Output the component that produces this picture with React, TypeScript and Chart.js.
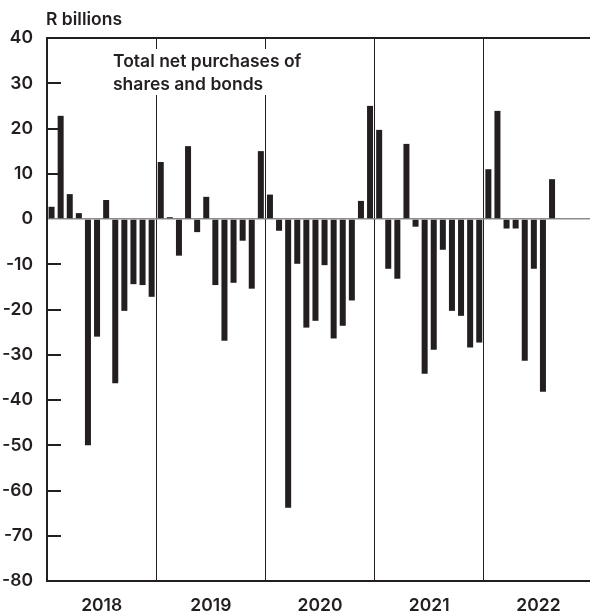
import { useEffect, useRef } from 'react';
import { Chart, registerables } from 'chart.js';

Chart.register(...registerables);

const years = ['2018', '2019', '2020', '2021', '2022'];
const monthNames = ['Jan', 'Feb', 'Mar', 'Apr', 'May', 'Jun', 'Jul', 'Aug', 'Sep', 'Oct', 'Nov', 'Dec'];

const values2018 = [2.7, 22.8, 5.5, 1.3, -50.0, -26.0, 4.2, -36.3, -20.3, -14.4, -14.6, -17.2];
const values2019 = [12.6, 0.4, -8.1, 16.1, -2.9, 4.9, -14.6, -26.9, -14.1, -4.8, -15.4, 15.0];
const values2020 = [5.4, -2.6, -63.8, -9.9, -24.0, -22.5, -10.2, -26.4, -23.6, -18.0, 4.0, 25.0];
const values2021 = [19.7, -11.0, -13.2, 16.6, -1.7, -34.2, -28.9, -6.8, -20.3, -21.4, -28.4, -27.3];
const values2022 = [11.0, 23.9, -2.1, -2.1, -31.3, -11.0, -38.2, 8.8];

const yMin = -80;
const yMax = 40;
const yStep = 10;

const unitLabel = 'R billions';
const noteLines = ['Total net purchases of', 'shares and bonds'];

const INK = '#231f20';
const FONT = 'Inter, "Liberation Sans", Arial, sans-serif';
const FONT_SIZE = 17.5;
const FONT_WEIGHT = 600;

const categories = years.flatMap((y) => monthNames.map((m) => `${m} ${y}`));
const seriesValues = [...values2018, ...values2019, ...values2020, ...values2021, ...values2022];

const framePlugin = {
  id: 'framePlugin',
  afterDatasetsDraw(chart: any) {
    const { ctx, chartArea } = chart;
    const ys = chart.scales.y;
    ctx.save();
    ctx.strokeStyle = INK;
    ctx.lineWidth = 2;
    ctx.beginPath();
    ctx.moveTo(chartArea.left - 1, chartArea.top);
    ctx.lineTo(chartArea.right, chartArea.top);
    ys.ticks.forEach((t: any) => {
      if (t.value > ys.min && t.value < ys.max && t.value !== 0) {
        const py = Math.round(ys.getPixelForValue(t.value));
        ctx.moveTo(chartArea.left, py);
        ctx.lineTo(chartArea.left + 14, py);
      }
    });
    ctx.stroke();

    // note box
    ctx.fillStyle = '#ffffff';
    ctx.fillRect(108, 49, 206, 46);
    ctx.fillStyle = INK;
    ctx.font = `${FONT_WEIGHT} ${FONT_SIZE}px ${FONT}`;
    ctx.textAlign = 'left';
    ctx.textBaseline = 'alphabetic';
    ctx.fillText(noteLines[0], 113, 67);
    ctx.fillText(noteLines[1], 113, 90);

    // unit label
    ctx.fillText(unitLabel, chartArea.left - 1, 25);
    ctx.restore();
  },
};

export default function App() {
  const ref = useRef<HTMLCanvasElement | null>(null);

  useEffect(() => {
    if (!ref.current) return;
    const chart = new Chart(ref.current, {
      type: 'bar',
      data: {
        labels: categories,
        datasets: [
          {
            data: seriesValues,
            backgroundColor: INK,
            borderWidth: 0,
            barPercentage: 0.66,
            categoryPercentage: 1,
          },
        ],
      },
      options: {
        responsive: false,
        animation: false,
        devicePixelRatio: 1,
        layout: { padding: { top: 38, left: 0, right: 0, bottom: 0 } },
        plugins: { legend: { display: false }, tooltip: { enabled: false }, title: { display: false } },
        scales: {
          x: {
            type: 'category',
            offset: true,
            afterFit: (s: any) => {
              s.height = 33;
            },
            grid: {
              offset: true,
              drawTicks: true,
              tickLength: 10,
              tickColor: 'rgba(0,0,0,0)',
              lineWidth: 1,
              color: (c: any) => (c.index % 12 === 0 && c.index > 0 ? INK : 'rgba(0,0,0,0)'),
            },
            border: { display: true, color: INK, width: 2 },
            ticks: {
              autoSkip: false,
              maxRotation: 0,
              minRotation: 0,
              padding: 4,
              labelOffset: -4.5,
              color: INK,
              font: { family: FONT, size: FONT_SIZE, weight: FONT_WEIGHT },
              callback: (_v: any, i: number) => (i % 12 === 6 ? years[Math.floor(i / 12)] : ''),
            },
          },
          y: {
            min: yMin,
            max: yMax,
            afterFit: (s: any) => {
              s.width = 47;
            },
            grid: {
              drawTicks: false,
              lineWidth: 1.5,
              color: (c: any) => (c.tick && c.tick.value === 0 ? '#8c8c8c' : 'rgba(0,0,0,0)'),
            },
            border: { display: true, color: INK, width: 2 },
            ticks: {
              stepSize: yStep,
              padding: 14,
              color: INK,
              font: { family: FONT, size: FONT_SIZE, weight: FONT_WEIGHT },
            },
          },
        },
      },
      plugins: [framePlugin],
    });
    return () => chart.destroy();
  }, []);

  return (
    <div style={{ position: 'absolute', left: 0, top: 0, width: 590, height: 614, overflow: 'hidden', background: '#fff' }}>
      <canvas ref={ref} width={593} height={614} style={{ display: 'block' }} />
    </div>
  );
}
